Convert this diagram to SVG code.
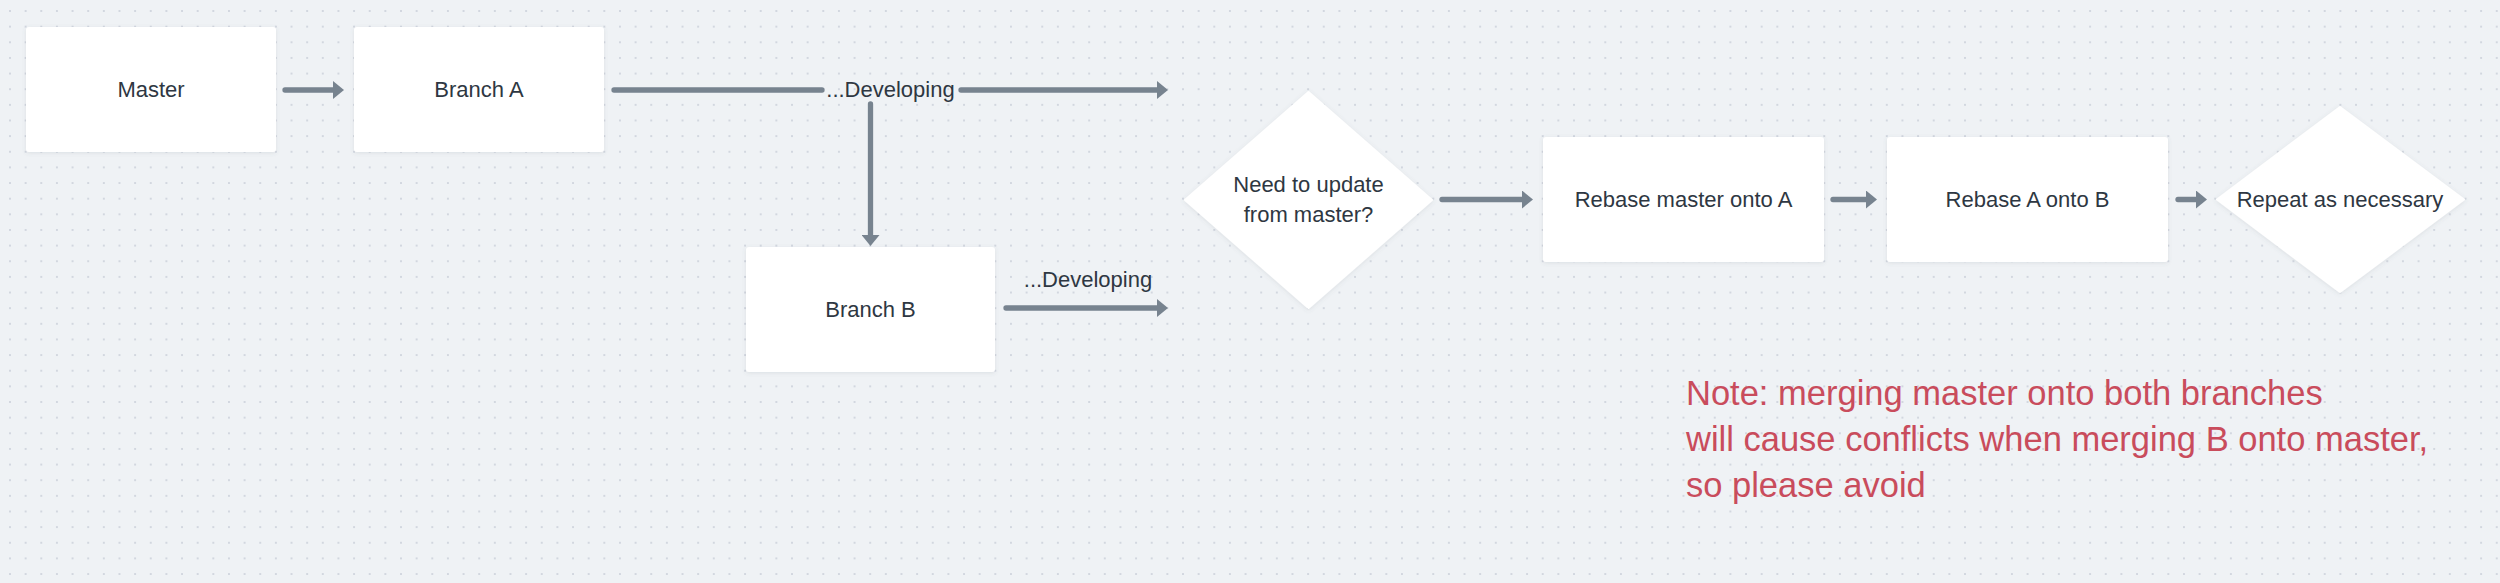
<svg xmlns="http://www.w3.org/2000/svg" width="2500" height="583" viewBox="0 0 2500 583">
  <style>
    .node { fill: #ffffff; filter: url(#shadow); }
    .label { font-family: "Liberation Sans", Arial, sans-serif; font-size: 22px; fill: #2e3742; text-anchor: middle; }
    .conn { stroke: #77838f; stroke-width: 5.3; fill: none; stroke-linecap: round; }
    .note { font-family: "Liberation Sans", Arial, sans-serif; font-size: 34.5px; fill: #c94c5c; }
  </style>
  <defs>
    <pattern id="dots" patternUnits="userSpaceOnUse" x="2.18" y="3.18" width="15.64" height="15.64">
      <circle cx="7.82" cy="7.82" r="1" fill="#c9ced8"/>
    </pattern>
    <filter id="shadow" x="-10%" y="-10%" width="120%" height="130%">
      <feDropShadow dx="0" dy="1" stdDeviation="2" flood-color="#5a6675" flood-opacity="0.14"/>
    </filter>
    <marker id="arrow" viewBox="0 0 11 18" refX="1" refY="9" markerWidth="11" markerHeight="18" markerUnits="userSpaceOnUse" orient="auto">
      <path d="M0,0 L11,9 L0,18 Z" fill="#77838f"/>
    </marker>
  </defs>

  <rect x="0" y="0" width="2500" height="583" fill="#eff2f5"/>
  <rect x="0" y="0" width="2500" height="583" fill="url(#dots)"/>

  <g id="connectors">
    <path class="conn" d="M285,90 L334,90" marker-end="url(#arrow)"/>
    <path class="conn" d="M614,90 L822,90"/>
    <path class="conn" d="M961,90 L1158,90" marker-end="url(#arrow)"/>
    <path class="conn" d="M870.5,104 L870.5,236" marker-end="url(#arrow)"/>
    <path class="conn" d="M1006,308 L1158,308" marker-end="url(#arrow)"/>
    <path class="conn" d="M1442,199.5 L1523,199.5" marker-end="url(#arrow)"/>
    <path class="conn" d="M1833,199.5 L1867,199.5" marker-end="url(#arrow)"/>
    <path class="conn" d="M2178,199.5 L2197,199.5" marker-end="url(#arrow)"/>
    <text class="label" x="890.5" y="97">...Developing</text>
    <text class="label" x="1088" y="287">...Developing</text>
  </g>

  <g id="master">
    <rect class="node" x="26" y="27" width="250" height="125" rx="3"/>
    <text class="label" x="151" y="97">Master</text>
  </g>
  <g id="branch-a">
    <rect class="node" x="354" y="27" width="250" height="125" rx="3"/>
    <text class="label" x="479" y="97">Branch A</text>
  </g>
  <g id="branch-b">
    <rect class="node" x="746" y="247" width="249" height="125" rx="3"/>
    <text class="label" x="870.5" y="317">Branch B</text>
  </g>
  <g id="need-update">
    <polygon class="node" points="1308.5,92 1432,200 1308.5,308 1185,200" stroke="#ffffff" stroke-width="2" stroke-linejoin="round"/>
    <text class="label" x="1308.5" y="192">Need to update</text>
    <text class="label" x="1308.5" y="222">from master?</text>
  </g>
  <g id="rebase-master">
    <rect class="node" x="1543" y="137" width="281" height="125" rx="3"/>
    <text class="label" x="1683.5" y="207">Rebase master onto A</text>
  </g>
  <g id="rebase-a">
    <rect class="node" x="1887" y="137" width="281" height="125" rx="3"/>
    <text class="label" x="2027.5" y="207">Rebase A onto B</text>
  </g>
  <g id="repeat">
    <polygon class="node" points="2340,107 2464,199.5 2340,292 2217,199.5" stroke="#ffffff" stroke-width="2" stroke-linejoin="round"/>
    <text class="label" x="2340" y="207">Repeat as necessary</text>
  </g>

  <g id="note">
    <text class="note" x="1686" y="405">Note: merging master onto both branches</text>
    <text class="note" x="1686" y="451">will cause conflicts when merging B onto master,</text>
    <text class="note" x="1686" y="497">so please avoid</text>
  </g>
</svg>
